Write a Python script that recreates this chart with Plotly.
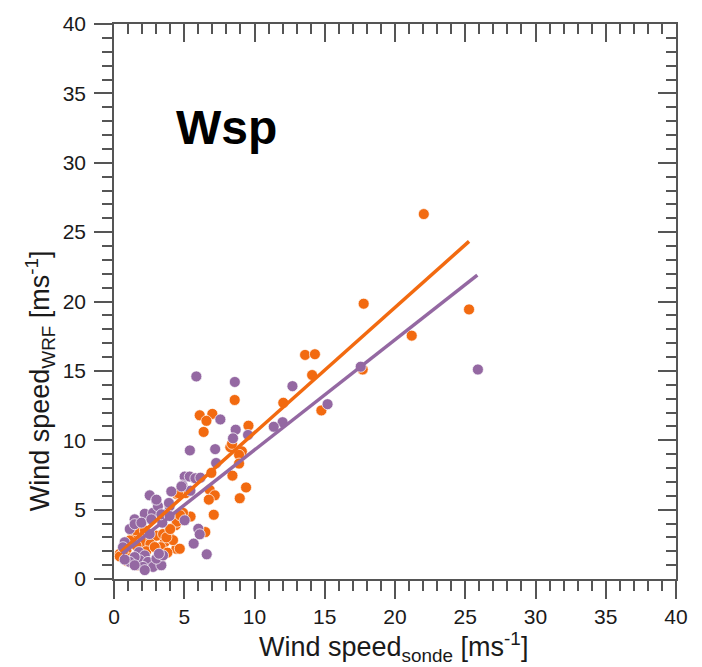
import plotly.graph_objects as go

# Wind speed from radiosondes (x) versus WRF simulations (y), two model runs
orange_sonde = [22.05, 17.77, 25.27, 21.19, 13.6, 14.3, 14.1, 17.7, 14.76, 12.05,
                9.57, 8.59, 6.1, 7.0, 6.58, 6.38, 8.28, 8.4, 9.1, 8.9,
                6.93, 8.9, 8.43, 9.4, 8.95, 6.81, 7.17, 6.75, 7.1, 4.48,
                5.1, 4.56, 5.1, 5.45, 4.91, 4.39, 4.48, 4.44, 6.5, 1.35,
                1.95, 3.96, 0.41, 0.88, 2.54, 3.61, 3.25, 0.64, 2.06, 2.66,
                3.02, 1.71, 3.49, 4.2, 3.73, 1.12, 1.54, 0.41, 3.32, 2.59,
                4.7, 4.68, 1.2, 2.3, 3.8, 2.9, 1.6, 0.9, 4.0, 2.2]
orange_wrf = [26.3, 19.84, 19.43, 17.54, 16.15, 16.2, 14.7, 15.1, 12.15, 12.7,
              11.05, 12.9, 11.8, 11.9, 11.4, 10.6, 9.5, 9.74, 9.2, 8.95,
              7.65, 8.32, 7.45, 6.6, 5.82, 6.43, 6.03, 5.72, 4.63, 6.12,
              6.19, 6.19, 4.54, 4.5, 4.77, 3.88, 4.13, 2.18, 3.38, 3.24,
              3.12, 3.0, 1.82, 2.06, 2.41, 2.65, 1.35, 1.82, 2.65, 2.89,
              3.12, 0.99, 3.24, 2.8, 3.0, 2.77, 3.52, 1.63, 2.29, 2.53,
              4.6, 2.18, 1.5, 2.0, 1.9, 2.3, 2.4, 1.3, 3.6, 3.5]

purple_sonde = [25.9, 17.56, 12.7, 15.2, 12.0, 11.37, 8.6, 5.86, 7.57, 8.66,
                8.47, 9.54, 5.4, 7.2, 7.27, 5.03, 5.39, 5.79, 4.87, 5.44,
                4.08, 2.54, 3.01, 3.96, 1.47, 2.19, 2.78, 5.03, 3.84, 3.56,
                3.44, 6.0, 6.1, 5.67, 6.6, 3.13, 3.96, 3.37, 3.96, 1.12,
                1.47, 2.54, 0.76, 0.64, 1.78, 2.19, 1.83, 1.47, 2.42, 2.06,
                1.12, 0.76, 2.78, 3.37, 3.02, 3.49, 1.47, 2.19, 3.2, 1.95,
                2.66, 3.02, 3.91, 4.8, 6.15]
purple_wrf = [15.1, 15.3, 13.9, 12.6, 11.3, 10.97, 14.2, 14.6, 11.5, 10.76,
              10.14, 10.38, 9.27, 9.36, 8.36, 7.38, 7.38, 7.26, 6.74, 6.36,
              6.31, 6.03, 5.65, 5.32, 4.3, 4.7, 4.77, 4.23, 4.77, 4.42,
              4.06, 3.62, 3.22, 2.55, 1.78, 5.25, 5.25, 4.66, 4.54, 3.6,
              3.95, 3.24, 2.65, 2.29, 1.94, 1.70, 1.35, 1.58, 1.23, 0.87,
              1.23, 1.4, 0.87, 0.99, 1.47, 1.70, 0.99, 0.64, 1.82, 4.06,
              4.3, 5.72, 5.48, 6.67, 7.3]

# Linear fits (end points of each regression line)
orange_fit_x = [0.48, 25.27]
orange_fit_y = [1.94, 24.33]
purple_fit_x = [0.59, 25.86]
purple_fit_y = [1.82, 21.9]

ORANGE = "#F26A10"
PURPLE = "#9468A2"
AXIS = "#555555"
FONT = "Liberation Sans, Arial, sans-serif"

fig = go.Figure()
fig.add_trace(go.Scatter(
    x=orange_sonde, y=orange_wrf, mode="markers",
    marker=dict(size=11, color=ORANGE, line=dict(width=1, color="rgba(255,255,255,0.7)")),
    showlegend=False))
fig.add_trace(go.Scatter(
    x=purple_sonde, y=purple_wrf, mode="markers",
    marker=dict(size=11, color=PURPLE, line=dict(width=1, color="rgba(255,255,255,0.7)")),
    showlegend=False))
# Fit lines go on the mirrored top/right axes (same ranges), drawn above the points
fig.add_trace(go.Scatter(
    x=orange_fit_x, y=orange_fit_y, mode="lines", xaxis="x2", yaxis="y2",
    line=dict(color=ORANGE, width=3.5), showlegend=False))
fig.add_trace(go.Scatter(
    x=purple_fit_x, y=purple_fit_y, mode="lines", xaxis="x2", yaxis="y2",
    line=dict(color=PURPLE, width=3.5), showlegend=False))


def axis_style(tick_dir, labels):
    return dict(range=[0, 40], tickmode="linear", tick0=0, dtick=5,
                showgrid=False, zeroline=False,
                showline=True, linecolor=AXIS, linewidth=1.5,
                ticks=tick_dir, tickcolor=AXIS, tickwidth=1.5, ticklen=18,
                showticklabels=labels,
                tickfont=dict(size=21, family=FONT, color="#1a1a1a"),
                minor=dict(ticks=tick_dir, tickmode="linear", tick0=0, dtick=1,
                           ticklen=10, tickcolor=AXIS, tickwidth=1.5))


fig.update_layout(
    width=702, height=667,
    margin=dict(l=114, r=26, t=15, b=88),
    paper_bgcolor="white", plot_bgcolor="white",
    font=dict(family=FONT, color="#1a1a1a"),
    xaxis=axis_style("outside", True),
    yaxis=dict(**axis_style("outside", True), ticklabelstandoff=4),
    xaxis2=dict(**axis_style("inside", False), overlaying="x", side="top", anchor="y"),
    yaxis2=dict(**axis_style("inside", False), overlaying="y", side="right", anchor="x"),
    annotations=[
        dict(text="<b>Wsp</b>", x=4.25, y=32.57, xref="x", yref="y",
             xanchor="left", yanchor="middle", showarrow=False,
             font=dict(size=48, family=FONT, color="black")),
        dict(text="Wind speed<sub>sonde</sub> [ms<sup>-1</sup>]",
             x=0.498, y=-0.122, xref="paper", yref="paper",
             xanchor="center", yanchor="middle", showarrow=False,
             font=dict(size=27, family=FONT, color="#1a1a1a")),
        dict(text="Wind speed<sub>WRF</sub> [ms<sup>-1</sup>]",
             x=-0.1317, y=0.358, xref="paper", yref="paper", textangle=-90,
             xanchor="center", yanchor="middle", showarrow=False,
             font=dict(size=27, family=FONT, color="#1a1a1a")),
    ],
)

fig.write_html("out.html")
